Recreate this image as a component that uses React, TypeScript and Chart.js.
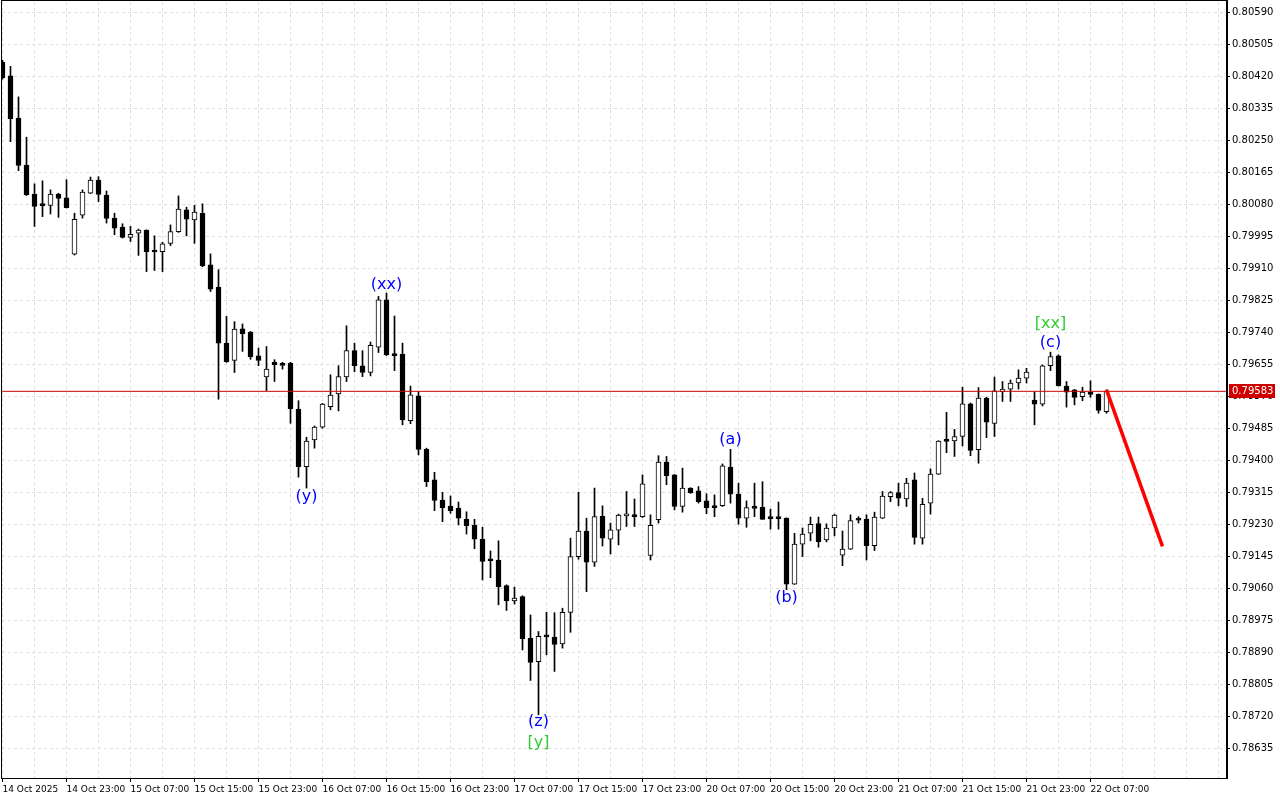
import { useEffect, useRef } from 'react';
import { Chart, registerables } from 'chart.js';

Chart.register(...registerables);

// Hourly OHLC bars, 14 Oct 2025 15:00 .. 22 Oct 2025 09:00
const OPEN = [
  0.80457, 0.80421, 0.80309, 0.80184, 0.80107, 0.80077, 0.80077, 0.80107, 0.80097, 0.79947,
  0.80051, 0.80109, 0.80144, 0.80104, 0.80043, 0.80019, 0.79992, 0.80003, 0.80011, 0.79956,
  0.79954, 0.79976, 0.80007, 0.80065, 0.80038, 0.80056, 0.79919, 0.79860, 0.79711, 0.79665,
  0.79749, 0.79740, 0.79677, 0.79621, 0.79660, 0.79653, 0.79658, 0.79536, 0.79383, 0.79454,
  0.79488, 0.79542, 0.79576, 0.79621, 0.79691, 0.79651, 0.79633, 0.79700, 0.79826, 0.79682,
  0.79682, 0.79505, 0.79571, 0.79429, 0.79348, 0.79294, 0.79278, 0.79273, 0.79243, 0.79227,
  0.79190, 0.79134, 0.79135, 0.79067, 0.79026, 0.79038, 0.78927, 0.78865, 0.78932, 0.78930,
  0.78912, 0.78996, 0.79144, 0.79212, 0.79129, 0.79251, 0.79190, 0.79214, 0.79252, 0.79255,
  0.79250, 0.79147, 0.79242, 0.79395, 0.79361, 0.79277, 0.79326, 0.79319, 0.79292, 0.79279,
  0.79279, 0.79382, 0.79310, 0.79246, 0.79275, 0.79275, 0.79246, 0.79246, 0.79246, 0.79071,
  0.79177, 0.79206, 0.79232, 0.79188, 0.79220, 0.79148, 0.79164, 0.79242, 0.79244, 0.79173,
  0.79246, 0.79303, 0.79314, 0.79297, 0.79348, 0.79193, 0.79286, 0.79363, 0.79451, 0.79451,
  0.79463, 0.79550, 0.79428, 0.79565, 0.79498, 0.79582, 0.79589, 0.79605, 0.79618, 0.79560,
  0.79549, 0.79651, 0.79677, 0.79597, 0.79587, 0.79569, 0.79581, 0.79575, 0.79529,
];
const HIGH = [
  0.80462, 0.80446, 0.80365, 0.80258, 0.80134, 0.80142, 0.80118, 0.80109, 0.80145, 0.80056,
  0.80118, 0.80152, 0.80153, 0.80115, 0.80056, 0.80028, 0.80021, 0.80014, 0.80012, 0.79996,
  0.79979, 0.80025, 0.80102, 0.80072, 0.80077, 0.80081, 0.79948, 0.79906, 0.79782, 0.79768,
  0.79762, 0.79742, 0.79698, 0.79702, 0.79667, 0.79660, 0.79660, 0.79558, 0.79461, 0.79491,
  0.79551, 0.79627, 0.79651, 0.79757, 0.79711, 0.79691, 0.79714, 0.79835, 0.79844, 0.79783,
  0.79711, 0.79597, 0.79582, 0.79432, 0.79368, 0.79315, 0.79305, 0.79289, 0.79263, 0.79243,
  0.79222, 0.79159, 0.79186, 0.79069, 0.79063, 0.79040, 0.78989, 0.78945, 0.78996, 0.78995,
  0.79007, 0.79193, 0.79315, 0.79246, 0.79326, 0.79279, 0.79233, 0.79257, 0.79317, 0.79297,
  0.79361, 0.79255, 0.79412, 0.79410, 0.79362, 0.79379, 0.79327, 0.79330, 0.79311, 0.79308,
  0.79390, 0.79429, 0.79339, 0.79292, 0.79339, 0.79343, 0.79270, 0.79289, 0.79247, 0.79206,
  0.79220, 0.79249, 0.79249, 0.79231, 0.79257, 0.79212, 0.79255, 0.79250, 0.79255, 0.79262,
  0.79317, 0.79317, 0.79339, 0.79352, 0.79366, 0.79299, 0.79377, 0.79452, 0.79527, 0.79482,
  0.79594, 0.79552, 0.79593, 0.79567, 0.79621, 0.79609, 0.79613, 0.79640, 0.79644, 0.79582,
  0.79653, 0.79687, 0.79680, 0.79609, 0.79588, 0.79594, 0.79611, 0.79576, 0.79587,
];
const LOW = [
  0.80412, 0.80246, 0.80169, 0.80103, 0.80021, 0.80047, 0.80054, 0.80045, 0.80070, 0.79945,
  0.80043, 0.80108, 0.80087, 0.80030, 0.79999, 0.79990, 0.79981, 0.79944, 0.79901, 0.79904,
  0.79901, 0.79970, 0.80005, 0.79996, 0.79976, 0.79914, 0.79848, 0.79562, 0.79660, 0.79633,
  0.79689, 0.79668, 0.79651, 0.79585, 0.79609, 0.79642, 0.79498, 0.79355, 0.79326, 0.79432,
  0.79485, 0.79534, 0.79531, 0.79609, 0.79635, 0.79622, 0.79624, 0.79686, 0.79678, 0.79638,
  0.79494, 0.79497, 0.79414, 0.79330, 0.79266, 0.79237, 0.79259, 0.79228, 0.79204, 0.79165,
  0.79082, 0.79088, 0.79016, 0.79001, 0.79018, 0.78896, 0.78815, 0.78724, 0.78883, 0.78839,
  0.78901, 0.78943, 0.79137, 0.79051, 0.79118, 0.79172, 0.79151, 0.79175, 0.79224, 0.79224,
  0.79248, 0.79135, 0.79233, 0.79335, 0.79268, 0.79262, 0.79312, 0.79286, 0.79258, 0.79250,
  0.79277, 0.79286, 0.79230, 0.79222, 0.79250, 0.79243, 0.79217, 0.79217, 0.79056, 0.79070,
  0.79144, 0.79186, 0.79169, 0.79183, 0.79199, 0.79120, 0.79163, 0.79233, 0.79135, 0.79160,
  0.79245, 0.79290, 0.79279, 0.79277, 0.79177, 0.79177, 0.79257, 0.79362, 0.79420, 0.79410,
  0.79438, 0.79412, 0.79392, 0.79460, 0.79463, 0.79556, 0.79556, 0.79589, 0.79605, 0.79494,
  0.79544, 0.79638, 0.79597, 0.79541, 0.79547, 0.79558, 0.79567, 0.79525, 0.79525,
];
const CLOSE = [
  0.80416, 0.80307, 0.80183, 0.80105, 0.80074, 0.80076, 0.80107, 0.80095, 0.80071, 0.80040,
  0.80112, 0.80144, 0.80106, 0.80042, 0.80016, 0.79992, 0.80000, 0.80011, 0.79953, 0.79953,
  0.79975, 0.80007, 0.80067, 0.80040, 0.80059, 0.79916, 0.79854, 0.79711, 0.79662, 0.79748,
  0.79736, 0.79675, 0.79665, 0.79642, 0.79654, 0.79652, 0.79536, 0.79383, 0.79451, 0.79488,
  0.79549, 0.79573, 0.79622, 0.79691, 0.79651, 0.79633, 0.79705, 0.79826, 0.79680, 0.79678,
  0.79507, 0.79574, 0.79429, 0.79343, 0.79293, 0.79274, 0.79266, 0.79246, 0.79226, 0.79190,
  0.79131, 0.79133, 0.79064, 0.79027, 0.79034, 0.78926, 0.78863, 0.78932, 0.78931, 0.78911,
  0.78996, 0.79144, 0.79212, 0.79129, 0.79250, 0.79193, 0.79215, 0.79254, 0.79253, 0.79250,
  0.79337, 0.79227, 0.79395, 0.79359, 0.79277, 0.79326, 0.79314, 0.79290, 0.79274, 0.79274,
  0.79385, 0.79310, 0.79246, 0.79274, 0.79272, 0.79243, 0.79245, 0.79245, 0.79071, 0.79177,
  0.79204, 0.79230, 0.79184, 0.79220, 0.79254, 0.79164, 0.79240, 0.79241, 0.79173, 0.79249,
  0.79305, 0.79314, 0.79299, 0.79339, 0.79195, 0.79283, 0.79363, 0.79451, 0.79450, 0.79463,
  0.79550, 0.79426, 0.79565, 0.79501, 0.79584, 0.79589, 0.79605, 0.79618, 0.79634, 0.79549,
  0.79651, 0.79675, 0.79598, 0.79581, 0.79567, 0.79581, 0.79575, 0.79532, 0.79583,
];

// Time-axis labels, one every 8 hourly bars starting at bar 0
const X_TICK_LABELS = [
  '14 Oct 2025', '14 Oct 23:00', '15 Oct 07:00', '15 Oct 15:00', '15 Oct 23:00',
  '16 Oct 07:00', '16 Oct 15:00', '16 Oct 23:00', '17 Oct 07:00', '17 Oct 15:00',
  '17 Oct 23:00', '20 Oct 07:00', '20 Oct 15:00', '20 Oct 23:00', '21 Oct 07:00',
  '21 Oct 15:00', '21 Oct 23:00', '22 Oct 07:00',
];

const Y_TICK_LABELS = [
  '0.80590', '0.80505', '0.80420', '0.80335', '0.80250', '0.80165', '0.80080', '0.79995',
  '0.79910', '0.79825', '0.79740', '0.79655', '0.79570', '0.79485', '0.79400', '0.79315',
  '0.79230', '0.79145', '0.79060', '0.78975', '0.78890', '0.78805', '0.78720', '0.78635',
];

const CURRENT_PRICE = 0.79583;
const FORECAST_BARS = [138, 145];
const FORECAST_PRICES = [0.79587, 0.79171];

const WAVE_TEXT = ['(xx)', '(y)', '(z)', '[y]', '(a)', '(b)', '[xx]', '(c)'];
const WAVE_BAR = [48, 38, 67, 67, 91, 98, 131, 131];
const WAVE_PRICE = [0.79866, 0.79303, 0.78705, 0.78649, 0.79454, 0.79034, 0.79762, 0.79712];
const WAVE_COLOR = ['#0000ff', '#0000ff', '#0000ff', '#32cd32', '#0000ff', '#0000ff', '#32cd32', '#0000ff'];

const Y_MIN = 0.78556;
const Y_MAX = 0.80617;
const X_MIN = -0.0625;
const X_MAX = 152.9375;

const FONT = '"DejaVu Sans", Verdana, sans-serif';

const wavePlugin = {
  id: 'waveLabels',
  afterDatasetsDraw(chart: any) {
    const { ctx, scales } = chart;
    ctx.save();
    ctx.font = `16px ${FONT}`;
    ctx.textAlign = 'center';
    ctx.textBaseline = 'middle';
    for (let i = 0; i < WAVE_TEXT.length; i++) {
      ctx.fillStyle = WAVE_COLOR[i];
      ctx.fillText(WAVE_TEXT[i], scales.x.getPixelForValue(WAVE_BAR[i]), scales.y.getPixelForValue(WAVE_PRICE[i]));
    }
    ctx.restore();
  },
};

const framePlugin = {
  id: 'frame',
  afterDraw(chart: any) {
    const { ctx, chartArea: a, scales } = chart;
    ctx.save();
    const py = Math.round(scales.y.getPixelForValue(CURRENT_PRICE));
    ctx.fillStyle = '#d00000';
    ctx.fillRect(a.right + 3, py - 7, 46, 14);
    ctx.fillStyle = '#ffffff';
    ctx.font = `10px ${FONT}`;
    ctx.textAlign = 'left';
    ctx.textBaseline = 'middle';
    ctx.fillText(CURRENT_PRICE.toFixed(5), a.right + 6, py);
    ctx.fillStyle = '#000000';
    ctx.fillRect(1, 0, a.right - 1, 1);
    ctx.fillRect(1, 0, 1, a.bottom + 1);
    ctx.fillRect(1, a.bottom, a.right - 1, 1);
    ctx.fillRect(a.right, 0, 2, a.bottom + 1);
    ctx.restore();
  },
};

export default function App() {
  const canvasRef = useRef<HTMLCanvasElement | null>(null);

  useEffect(() => {
    if (!canvasRef.current) return;
    const idx = OPEN.map((_, i) => i);
    const bodies = idx.map((i) => ({ x: i, y: [OPEN[i], CLOSE[i]] }));
    const wicks = idx.map((i) => ({ x: i, y: [LOW[i], HIGH[i]] }));
    const bodyColors = idx.map((i) => (CLOSE[i] >= OPEN[i] ? '#ffffff' : '#000000'));
    const gridTicks: number[] = [];
    for (let v = 0; v <= X_MAX; v += 4) gridTicks.push(v);

    const labelFor = (v: number) => (v % 8 === 0 && X_TICK_LABELS[v / 8] ? X_TICK_LABELS[v / 8] : '');

    const chart = new Chart(canvasRef.current, {
      type: 'bar',
      data: {
        datasets: [
          {
            type: 'line',
            data: [
              { x: FORECAST_BARS[0], y: FORECAST_PRICES[0] },
              { x: FORECAST_BARS[1], y: FORECAST_PRICES[1] },
            ],
            borderColor: '#ff0000',
            borderWidth: 3.5,
            pointRadius: 0,
            order: 0,
          } as any,
          {
            type: 'line',
            data: [
              { x: X_MIN - 5, y: CURRENT_PRICE },
              { x: X_MAX + 5, y: CURRENT_PRICE },
            ],
            borderColor: '#d00000',
            borderWidth: 1,
            pointRadius: 0,
            order: 1,
          } as any,
          {
            data: bodies as any,
            backgroundColor: bodyColors,
            borderColor: '#000000',
            borderWidth: 1,
            borderSkipped: false,
            barThickness: 5,
            minBarLength: 2,
            grouped: false,
            order: 2,
          } as any,
          {
            data: wicks as any,
            backgroundColor: '#000000',
            borderWidth: 0,
            barThickness: 1,
            grouped: false,
            order: 3,
          } as any,
        ],
      },
      options: {
        animation: false,
        responsive: false,
        maintainAspectRatio: false,
        events: [],
        layout: { padding: { left: 2, top: 2, right: 0, bottom: 0 } },
        plugins: { legend: { display: false }, tooltip: { enabled: false } },
        scales: {
          x: {
            type: 'linear',
            offset: false,
            min: X_MIN,
            max: X_MAX,
            afterBuildTicks: (s: any) => {
              s.ticks = gridTicks.map((v) => ({ value: v }));
            },
            afterFit: (s: any) => {
              s.height = 22;
              s.paddingLeft = 0;
              s.paddingRight = 0;
            },
            ticks: {
              callback: (v: any) => labelFor(Number(v)),
              align: 'start',
              maxRotation: 0,
              minRotation: 0,
              autoSkip: false,
              padding: 2,
              color: '#000000',
              font: { family: FONT, size: 9 },
            },
            grid: {
              offset: false,
              color: '#dedede',
              tickColor: (c: any) => (c.tick && labelFor(c.tick.value) ? '#000000' : 'rgba(0,0,0,0)'),
              tickLength: 4,
              tickBorderDash: [],
            },
            border: { display: false, dash: [3, 3] },
          } as any,
          y: {
            type: 'linear',
            position: 'right',
            min: Y_MIN,
            max: Y_MAX,
            afterBuildTicks: (s: any) => {
              s.ticks = Y_TICK_LABELS.map((l) => ({ value: parseFloat(l) }));
            },
            afterFit: (s: any) => {
              s.width = 54;
              s.paddingTop = 0;
              s.paddingBottom = 0;
            },
            ticks: {
              callback: (_v: any, i: number) => Y_TICK_LABELS[i],
              autoSkip: false,
              padding: 2,
              color: '#000000',
              font: { family: FONT, size: 10 },
            },
            grid: {
              color: '#dedede',
              tickColor: '#000000',
              tickLength: 4,
              tickBorderDash: [],
            },
            border: { display: false, dash: [3, 3] },
          } as any,
        },
      },
      plugins: [wavePlugin, framePlugin],
    });
    return () => chart.destroy();
  }, []);

  return (
    <div style={{ position: 'fixed', left: 0, top: 0, width: 1280, height: 800, background: '#ffffff' }}>
      <canvas ref={canvasRef} width={1280} height={800} style={{ display: 'block', width: 1280, height: 800 }} />
    </div>
  );
}
